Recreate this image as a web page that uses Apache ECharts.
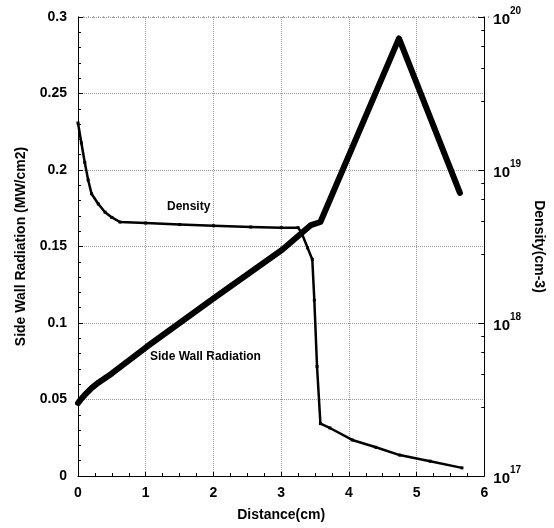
<!DOCTYPE html>
<html>
<head>
<meta charset="utf-8">
<script src="https://cdn.jsdelivr.net/npm/echarts@6/dist/echarts.min.js"></script>
<style>
  html, body { margin: 0; padding: 0; background: #fff; }
  #main { width: 554px; height: 528px; }
</style>
</head>
<body>
<div id="main"></div>
<script>
var myChart = echarts.init(document.getElementById('main'));

// side wall radiation (MW/cm2) vs distance (cm)
var radX = [0, 0.05, 0.1, 0.2, 0.3, 0.5, 1.01, 2.0, 3.02, 3.44, 3.58, 4.74, 5.64];
var radY = [0.0477, 0.0505, 0.053, 0.0575, 0.061, 0.067, 0.0843, 0.116, 0.148, 0.164, 0.166, 0.286, 0.185];

// density (cm-3) vs distance (cm)
var denX = [0, 0.05, 0.1, 0.15, 0.2, 0.3, 0.4, 0.5, 0.62, 1.0, 1.5, 2.0, 2.55, 3.0, 3.25, 3.30, 3.39, 3.46, 3.49, 3.53, 3.58, 3.72, 4.05, 4.4, 4.75, 5.2, 5.67];
var denY = [2.03e19, 1.5e19, 1.12e19, 8.6e18, 7.0e18, 6.0e18, 5.3e18, 4.9e18, 4.57e18, 4.5e18, 4.4e18, 4.32e18, 4.24e18, 4.2e18, 4.2e18, 3.9e18, 3.1e18, 2.6e18, 1.41e18, 5.2e17, 2.2e17, 2.06e17, 1.72e17, 1.54e17, 1.37e17, 1.25e17, 1.13e17];

var xTicks = [0, 1, 2, 3, 4, 5, 6];
var leftTicks = [0, 0.05, 0.1, 0.15, 0.2, 0.25, 0.3];

function pairs(xs, ys) {
    return xs.map(function (x, i) { return [x, ys[i]]; });
}

var font = 'Liberation Sans';
var axisLabelStyle = { color: '#000', fontFamily: font, fontWeight: 'bold', fontSize: 14 };
var nameStyle = { color: '#000', fontFamily: font, fontWeight: 'bold', fontSize: 14 };
var gridDots = { show: true, lineStyle: { type: 'dotted', color: '#999', width: 1 } };

option = {
    backgroundColor: '#fff',
    animation: false,
    grid: { left: 78, right: 48, top: 17, bottom: 52 },
    xAxis: {
        type: 'value',
        min: 0, max: 6, interval: 1,
        name: 'Distance(cm)',
        nameLocation: 'middle',
        nameGap: 32,
        nameTextStyle: nameStyle,
        axisLine: { show: true, lineStyle: { color: '#000', width: 1 } },
        axisTick: { show: true, inside: true, length: 4, lineStyle: { color: '#000' } },
        minorTick: { show: true, splitNumber: 4, length: 3, lineStyle: { color: '#000' } },
        axisLabel: Object.assign({ margin: 10, formatter: function (v) { return xTicks.indexOf(v) >= 0 ? String(v) : ''; } }, axisLabelStyle),
        splitLine: gridDots
    },
    yAxis: [
        {
            type: 'value',
            min: 0, max: 0.3, interval: 0.05,
            name: 'Side Wall Radiation (MW/cm2)',
            nameLocation: 'middle',
            nameGap: 50,
            nameTextStyle: nameStyle,
            axisLine: { show: true, lineStyle: { color: '#000', width: 1 } },
            axisTick: { show: true, inside: true, length: 5, lineStyle: { color: '#000' } },
            minorTick: { show: true, splitNumber: 5, length: 3, lineStyle: { color: '#000' } },
            axisLabel: Object.assign({ margin: 11, formatter: function (v) {
                var r = Math.round(v * 100) / 100;
                return leftTicks.indexOf(r) >= 0 ? String(r) : '';
            } }, axisLabelStyle),
            splitLine: gridDots
        },
        {
            type: 'log',
            logBase: 10,
            min: 1e17, max: 1e20,
            position: 'right',
            name: 'Density(cm-3)',
            nameLocation: 'middle',
            nameRotate: -90,
            nameGap: 30,
            nameTextStyle: Object.assign({ padding: [0, 0, 0, 0] }, nameStyle),
            axisLine: { show: true, lineStyle: { color: '#000', width: 1 } },
            axisTick: { show: true, inside: true, length: 6, lineStyle: { color: '#000' } },
            minorTick: { show: true, splitNumber: 5, length: 3, lineStyle: { color: '#000' } },
            axisLabel: {
                margin: 9,
                formatter: function (v) {
                    var e = Math.round(Math.log(v) / Math.LN10);
                    return '{b|10}{s|' + e + '}';
                },
                rich: {
                    b: { color: '#000', fontFamily: font, fontWeight: 'bold', fontSize: 15, padding: [6, 0, 0, 0] },
                    s: { color: '#000', fontFamily: font, fontWeight: 'bold', fontSize: 10, verticalAlign: 'top', padding: [0, 0, 6, 0] }
                }
            },
            splitLine: { show: false }
        }
    ],
    graphic: [
        { type: 'text', left: 167, top: 201, style: { text: 'Density', fill: '#000', font: 'bold 12px "Liberation Sans"' } },
        { type: 'text', left: 150, top: 351, style: { text: 'Side Wall Radiation', fill: '#000', font: 'bold 12px "Liberation Sans"' } },
        { type: 'line', shape: { x1: 78, y1: 17, x2: 506, y2: 17 }, style: { stroke: '#555', lineWidth: 1, lineDash: [1, 4] } }
    ],
    series: [
        {
            name: 'Side Wall Radiation',
            type: 'line',
            yAxisIndex: 0,
            data: pairs(radX, radY),
            symbol: 'none',
            lineStyle: { color: '#000', width: 6, cap: 'round', join: 'round' }
        },
        {
            name: 'Density',
            type: 'line',
            yAxisIndex: 1,
            data: pairs(denX, denY),
            symbol: 'rect',
            symbolSize: 3,
            itemStyle: { color: '#000' },
            lineStyle: { color: '#000', width: 2.5, join: 'round' }
        }
    ]
};

myChart.setOption(option);
</script>
</body>
</html>
